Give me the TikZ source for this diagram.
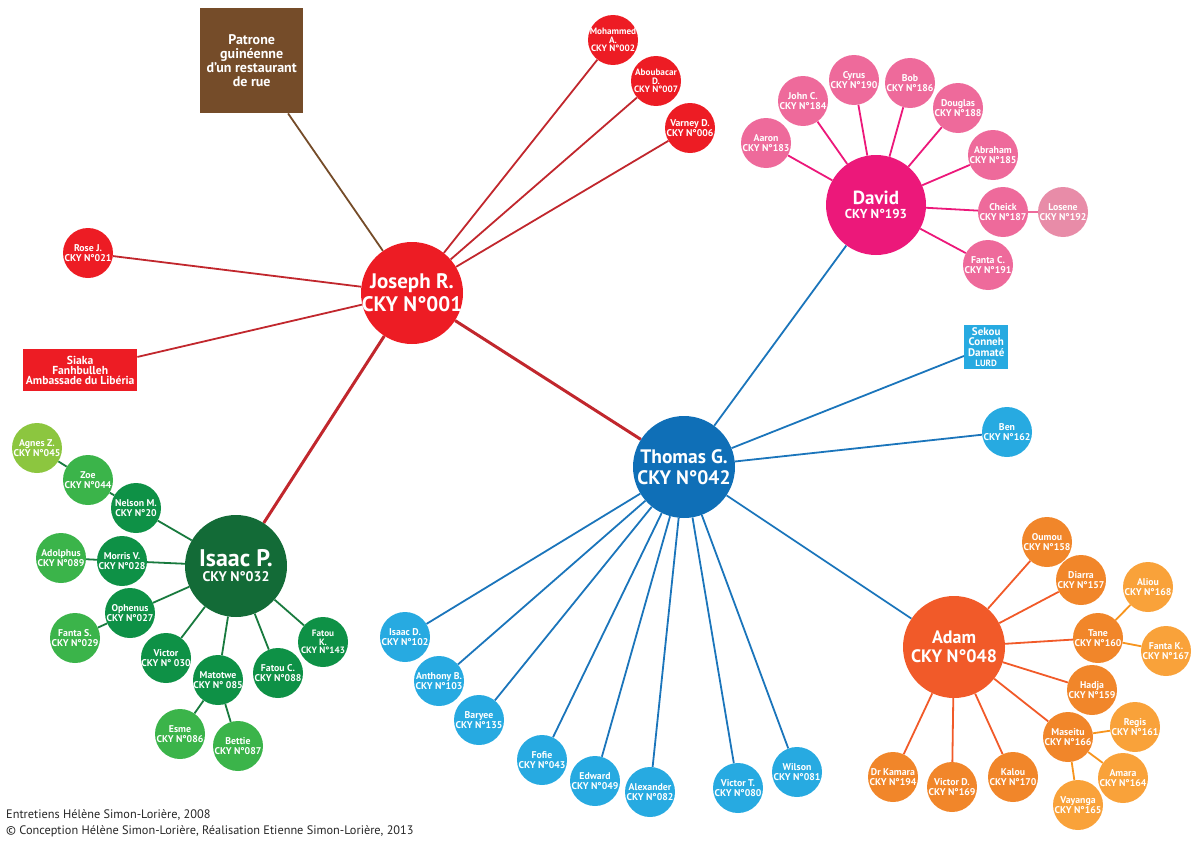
\documentclass[tikz,border=0pt]{standalone}
\usepackage{fontspec}
\setmainfont{PT Sans}
\usetikzlibrary{backgrounds}
\definecolor{cRed}{HTML}{ED1C24}
\definecolor{cRedLine}{HTML}{C1272D}
\definecolor{cBrown}{HTML}{754C29}
\definecolor{cPinkBig}{HTML}{EC187A}
\definecolor{cPink}{HTML}{EE6A9B}
\definecolor{cPinkL}{HTML}{E88CA8}
\definecolor{cBlueBig}{HTML}{0F6FB7}
\definecolor{cBlue}{HTML}{27AAE1}
\definecolor{cBlueLine}{HTML}{1B75BB}
\definecolor{cGreenDark}{HTML}{136B37}
\definecolor{cGreen}{HTML}{0E9146}
\definecolor{cGreenL}{HTML}{3BB44A}
\definecolor{cGreenY}{HTML}{8CC63F}
\definecolor{cGreenLine}{HTML}{187A3E}
\definecolor{cOrangeBig}{HTML}{F15A29}
\definecolor{cOrange}{HTML}{F1862A}
\definecolor{cOrangeL}{HTML}{F9A23A}
\definecolor{cOrangeLine}{HTML}{F15A29}
\definecolor{cOrangeLineL}{HTML}{F7941D}
\tikzset{
  sm/.style={circle, inner sep=-20pt, minimum size=50pt, text=white, align=center,
    font=\fontsize{9.8}{9.6}\selectfont\bfseries},
  smthree/.style={sm, font=\fontsize{9.2}{8.4}\selectfont\bfseries},
  big/.style={circle, inner sep=-40pt, minimum size=102pt, text=white, align=center},
  box/.style={rectangle, inner sep=0pt, text=white, align=center, anchor=north west},
  foot/.style={anchor=west, inner sep=0pt, font=\fontsize{12.3}{14}\selectfont, text=black!85},
  edge/.style={line width=1.8pt},
  thick edge/.style={line width=3pt},
}
\begin{document}
\begin{tikzpicture}[x=1pt,y=-1pt]
\useasboundingbox (0,0) rectangle (1193,843);

% ---------- Joseph R. cluster ----------
\node[big, fill=cRed, font=\fontsize{21}{23}\selectfont\bfseries] (joseph) at (412,293) {Joseph R.\\CKY N°001};
\node[box, fill=cBrown, minimum width=103pt, minimum height=105pt, font=\fontsize{14}{14}\selectfont\bfseries] (patrone) at (200,8) {Patrone\\guinéenne\\d’un restaurant\\de rue};
\node[sm, fill=cRed] (rose) at (88,253) {Rose J.\\CKY N°021};
\node[box, fill=cRed, minimum width=114pt, minimum height=42pt, font=\fontsize{11.6}{10.2}\selectfont\bfseries] (siaka) at (23,349) {Siaka\\Fanhbulleh\\Ambassade du Libéria};
\node[smthree, fill=cRed] (mohammed) at (613,40) {Mohammed\\A.\\CKY N°002};
\node[smthree, fill=cRed] (aboubacar) at (656,81) {Aboubacar\\D.\\CKY N°007};
\node[sm, fill=cRed] (varney) at (690,128) {Varney D.\\CKY N°006};

% ---------- Thomas G. cluster ----------
\node[big, fill=cBlueBig, font=\fontsize{19.5}{21}\selectfont\bfseries] (thomas) at (684,467) {Thomas G.\\CKY N°042};
\node[box, fill=cBlue, minimum width=44pt, minimum height=44pt, font=\fontsize{11}{10.6}\selectfont\bfseries] (sekou) at (964,325) {Sekou\\Conneh\\Damaté\\{\fontsize{9}{9}\selectfont LURD}};
\node[sm, fill=cBlue] (ben) at (1007,432) {Ben\\CKY N°162};
\node[sm, fill=cBlue] (isaacd) at (405,637) {Isaac D.\\CKY N°102};
\node[sm, fill=cBlue] (anthony) at (439,681) {Anthony B.\\CKY N°103};
\node[sm, fill=cBlue] (baryee) at (479,720) {Baryee\\CKY N°135};
\node[sm, fill=cBlue] (fofie) at (542,760) {Fofie\\CKY N°043};
\node[sm, fill=cBlue] (edward) at (595,781) {Edward\\CKY N°049};
\node[sm, fill=cBlue] (alexander) at (650,792) {Alexander\\CKY N°082};
\node[sm, fill=cBlue] (victort) at (738,788) {Victor T.\\CKY N°080};
\node[sm, fill=cBlue] (wilson) at (797,772) {Wilson\\CKY N°081};

% ---------- David cluster ----------
\node[big, fill=cPinkBig, minimum size=100pt] (david) at (876,205) {{\fontsize{19}{20}\selectfont\bfseries David}\\[2pt]{\fontsize{13}{13}\selectfont\bfseries CKY N°193}};
\node[sm, fill=cPink] (aaron) at (766,143) {Aaron\\CKY N°183};
\node[sm, fill=cPink] (johnc) at (803,101) {John C.\\CKY N°184};
\node[sm, fill=cPink] (cyrus) at (854,80) {Cyrus\\CKY N°190};
\node[sm, fill=cPink] (bob) at (910,83) {Bob\\CKY N°186};
\node[sm, fill=cPink] (douglas) at (958,108) {Douglas\\CKY N°188};
\node[sm, fill=cPink] (abraham) at (993,155) {Abraham\\CKY N°185};
\node[sm, fill=cPink] (cheick) at (1003,212) {Cheick\\CKY N°187};
\node[sm, fill=cPinkL] (losene) at (1063,212) {Losene\\CKY N°192};
\node[sm, fill=cPink] (fantac) at (988,265) {Fanta C.\\CKY N°191};

% ---------- Isaac P. cluster ----------
\node[big, fill=cGreenDark] (isaacp) at (236,566) {{\fontsize{24}{24}\selectfont\bfseries Isaac P.}\\[3pt]{\fontsize{14}{14}\selectfont\bfseries CKY N°032}};
\node[sm, fill=cGreenY] (agnes) at (37,448) {Agnes Z.\\CKY N°045};
\node[sm, fill=cGreenL] (zoe) at (88,480) {Zoe\\CKY N°044};
\node[sm, fill=cGreen] (nelson) at (136,508) {Nelson M.\\CKY N°20};
\node[sm, fill=cGreenL] (adolphus) at (61,558) {Adolphus\\CKY N°089};
\node[sm, fill=cGreen] (morris) at (122,561) {Morris V.\\CKY N°028};
\node[sm, fill=cGreen] (ophenus) at (130,613) {Ophenus\\CKY N°027};
\node[sm, fill=cGreenL] (fantas) at (75,638) {Fanta S.\\CKY N°029};
\node[sm, fill=cGreen] (victor) at (166,658) {Victor\\CKY N° 030};
\node[sm, fill=cGreen] (matotwe) at (218,680) {Matotwe\\CKY N° 085};
\node[sm, fill=cGreen] (fatouc) at (278,673) {Fatou C.\\CKY N°088};
\node[smthree, fill=cGreen] (fatouk) at (323,642) {Fatou\\K.\\CKY N°143};
\node[sm, fill=cGreenL] (esme) at (180,734) {Esme\\CKY N°086};
\node[sm, fill=cGreenL] (bettie) at (238,746) {Bettie\\CKY N°087};

% ---------- Adam cluster ----------
\node[big, fill=cOrangeBig, font=\fontsize{18}{19}\selectfont\bfseries] (adam) at (954,647) {Adam\\CKY N°048};
\node[sm, fill=cOrange] (oumou) at (1047,542) {Oumou\\CKY N°158};
\node[sm, fill=cOrange] (diarra) at (1081,580) {Diarra\\CKY N°157};
\node[sm, fill=cOrangeL] (aliou) at (1148,587) {Aliou\\CKY N°168};
\node[sm, fill=cOrange] (tane) at (1098,638) {Tane\\CKY N°160};
\node[sm, fill=cOrangeL] (fantak) at (1166,651) {Fanta K.\\CKY N°167};
\node[sm, fill=cOrange] (hadja) at (1092,690) {Hadja\\CKY N°159};
\node[sm, fill=cOrange] (maseitu) at (1068,737) {Maseitu\\CKY N°166};
\node[sm, fill=cOrangeL] (regis) at (1135,727) {Regis\\CKY N°161};
\node[sm, fill=cOrangeL] (amara) at (1123,778) {Amara\\CKY N°164};
\node[sm, fill=cOrangeL] (vayanga) at (1078,805) {Vayanga\\CKY N°165};
\node[sm, fill=cOrange] (kamara) at (893,777) {Dr Kamara\\CKY N°194};
\node[sm, fill=cOrange] (victord) at (952,787) {Victor D.\\CKY N°169};
\node[sm, fill=cOrange] (kalou) at (1013,777) {Kalou\\CKY N°170};

% ---------- footer ----------
\node[foot] (foot1) at (6,815) {Entretiens Hélène Simon-Lorière, 2008};
\node[foot] (foot2) at (6,831) {© Conception Hélène Simon-Lorière, Réalisation Etienne Simon-Lorière, 2013};

% ---------- connectors ----------
\begin{pgfonlayer}{background}
\draw[edge, cBrown] (joseph) -- (patrone);
\foreach \n in {rose,siaka,mohammed,aboubacar,varney}
  \draw[edge, cRedLine] (joseph) -- (\n);
\draw[thick edge, cRedLine] (joseph) -- (thomas);
\draw[thick edge, cRedLine] (joseph) -- (isaacp);

\foreach \n in {david,sekou,ben,adam,isaacd,anthony,baryee,fofie,edward,alexander,victort,wilson}
  \draw[edge, cBlueLine] (thomas) -- (\n);

\foreach \n in {aaron,johnc,cyrus,bob,douglas,abraham,cheick,fantac}
  \draw[edge, cPinkBig] (david) -- (\n);
\draw[edge, cPink] (cheick) -- (losene);

\foreach \n in {nelson,morris,ophenus,victor,matotwe,fatouc,fatouk}
  \draw[edge, cGreenLine] (isaacp) -- (\n);
\draw[edge, cGreenLine] (nelson) -- (zoe);
\draw[edge, cGreenLine] (zoe) -- (agnes);
\draw[edge, cGreenLine] (morris) -- (adolphus);
\draw[edge, cGreenLine] (ophenus) -- (fantas);
\draw[edge, cGreenLine] (matotwe) -- (esme);
\draw[edge, cGreenLine] (matotwe) -- (bettie);

\foreach \n in {oumou,diarra,tane,hadja,maseitu,kamara,victord,kalou}
  \draw[edge, cOrangeLine] (adam) -- (\n);
\foreach \n in {aliou,fantak}
  \draw[edge, cOrangeLineL] (tane) -- (\n);
\foreach \n in {regis,amara,vayanga}
  \draw[edge, cOrangeLineL] (maseitu) -- (\n);
\end{pgfonlayer}
\end{tikzpicture}
\end{document}
